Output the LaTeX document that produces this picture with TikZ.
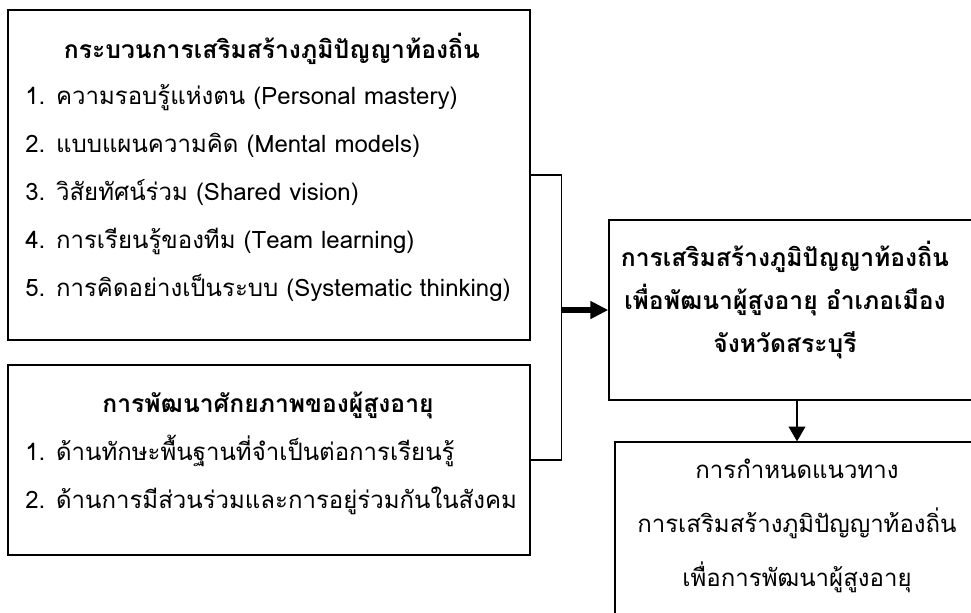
\documentclass[tikz,border=0pt]{standalone}
\usepackage{fontspec}
\setmainfont[Script=Thai]{Loma}
\usetikzlibrary{arrows.meta}

\begin{document}
\begin{tikzpicture}
[
x=0.75pt, y=-0.75pt,
box/.style={draw, line width=1pt, inner sep=0pt},
txt/.style={inner sep=0pt, font=\fontsize{18}{21}\selectfont},
head/.style={inner sep=0pt, font=\fontsize{18.5}{22}\selectfont\bfseries},
bigarrow/.style={line width=4pt, -{Triangle[length=13.5pt,width=12.75pt]}},
downarrow/.style={line width=1.1pt, -{Triangle[length=11pt,width=12.5pt]}}
]
\useasboundingbox (0,0) rectangle (971,612);
\clip (0,0) rectangle (971,612);

% the four boxes
\node[box, minimum width=391.5pt, minimum height=247.5pt] (proc) at (269,175) {};
\node[box, minimum width=391.5pt, minimum height=142.5pt] (elder) at (269,460) {};
\node[box, minimum width=282pt, minimum height=135pt] (goal) at (797,310) {};
\node[box, minimum width=273pt, minimum height=186pt] (guide) at (797,566) {};

% texts of the first box
\node[head, anchor=base] (ptitle) at (272,58) {กระบวนการเสริมสร้างภูมิปัญญาท้องถิ่น};
\node[txt, anchor=base west] (p1) at (25,104) {1. ความรอบรู้แห่งตน (Personal mastery)};
\node[txt, anchor=base west] (p2) at (25,152) {2. แบบแผนความคิด (Mental models)};
\node[txt, anchor=base west] (p3) at (25,200) {3. วิสัยทัศน์ร่วม (Shared vision)};
\node[txt, anchor=base west] (p4) at (25,248) {4. การเรียนรู้ของทีม (Team learning)};
\node[txt, anchor=base west] (p5) at (25,296) {5. การคิดอย่างเป็นระบบ (Systematic thinking)};

% texts of the second box
\node[head, anchor=base] (etitle) at (268,412) {การพัฒนาศักยภาพของผู้สูงอายุ};
\node[txt, anchor=base west] (e1) at (25,460) {1. ด้านทักษะพื้นฐานที่จำเป็นต่อการเรียนรู้};
\node[txt, anchor=base west] (e2) at (25,508) {2. ด้านการมีส่วนร่วมและการอยู่ร่วมกันในสังคม};

% texts of the right boxes
\node[head, anchor=base] (g1) at (785,266) {การเสริมสร้างภูมิปัญญาท้องถิ่น};
\node[head, anchor=base] (g2) at (785,309) {เพื่อพัฒนาผู้สูงอายุ อำเภอเมือง};
\node[head, anchor=base] (g3) at (785,352) {จังหวัดสระบุรี};
\node[txt, anchor=base] (d1) at (797,478) {การกำหนดแนวทาง};
\node[txt, anchor=base] (d2) at (797,532) {การเสริมสร้างภูมิปัญญาท้องถิ่น};
\node[txt, anchor=base] (d3) at (797,586) {เพื่อการพัฒนาผู้สูงอายุ};

% connectors
\draw[line width=1pt] (proc.east) -- ++(31,0) coordinate (join) |- (elder.east);
\draw[bigarrow] (join |- goal.west) -- (goal.west);
\draw[downarrow] (goal.south) -- (guide.north);
\end{tikzpicture}
\end{document}
